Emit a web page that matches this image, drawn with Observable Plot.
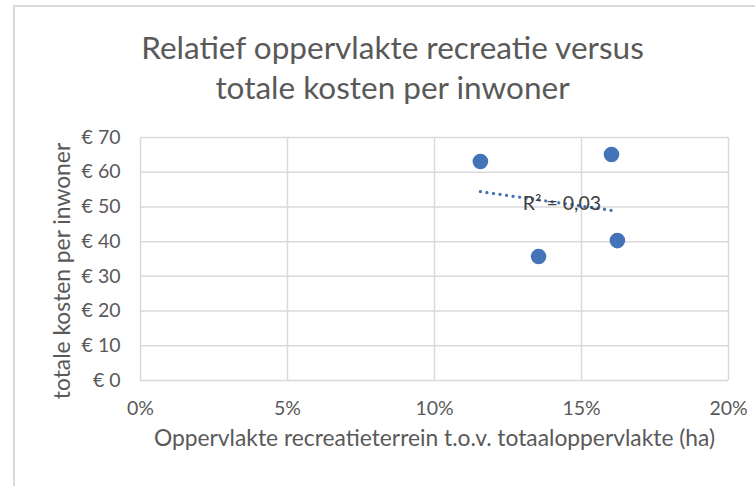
<!DOCTYPE html>
<html><head><meta charset="utf-8">
<script src="https://cdn.jsdelivr.net/npm/d3@7"></script>
<script src="https://cdn.jsdelivr.net/npm/@observablehq/plot@0.6"></script>
<style>
body{margin:0;background:#fff;}
#wrap{position:relative;width:755px;height:486px;overflow:hidden;font-family:Lato,"Open Sans",sans-serif;}
#frame{position:absolute;left:13px;top:5px;width:800px;height:600px;border-top:2px solid #d9d9d9;border-left:2px solid #d9d9d9;}
#title{position:absolute;left:0;top:27px;width:785px;text-align:center;font-size:31.5px;line-height:40px;color:#595959;}
#chart{position:absolute;left:0;top:120px;}
#chart svg{overflow:visible;}
</style></head>
<body><div id="wrap"><div id="frame"></div>
<div id="title">Relatief oppervlakte recreatie versus<br>totale kosten per inwoner</div>
<div id="chart"></div></div>
<script>
const share = [0.1156, 0.1602, 0.1354, 0.1622];
const cost = [63.1, 65.1, 35.7, 40.3];
const xTicks = [0, 0.05, 0.10, 0.15, 0.20];
const yTicks = [0, 10, 20, 30, 40, 50, 60, 70];
const xLabel = "Oppervlakte recreatieterrein t.o.v. totaaloppervlakte (ha)";
const yLabel = "totale kosten per inwoner";

const data = share.map((s, i) => ({x: s, y: cost[i]}));
const mx = d3.mean(share), my = d3.mean(cost);
let sxy = 0, sxx = 0, syy = 0;
data.forEach(d => { sxy += (d.x - mx) * (d.y - my); sxx += (d.x - mx) ** 2; syy += (d.y - my) ** 2; });
const r2 = (sxy * sxy) / (sxx * syy);
const r2text = "R² = " + r2.toFixed(2).replace(".", ",");

const blue = "#4474b8";
const pct = d3.format(".0%");
const eur = d => "€ " + d;
const chart = Plot.plot({
  width: 755, height: 366,
  marginLeft: 140, marginRight: 27, marginTop: 17, marginBottom: 106,
  style: {fontFamily: "Lato, 'Open Sans', sans-serif", fontSize: "19px", color: "#595959", background: "transparent", overflow: "visible"},
  x: {domain: [0, 0.2]},
  y: {domain: [0, 70]},
  marks: [
    Plot.gridX(xTicks, {stroke: "#d9d9d9", strokeOpacity: 1, strokeWidth: 1.5}),
    Plot.gridY(yTicks, {stroke: "#d9d9d9", strokeOpacity: 1, strokeWidth: 1.5}),
    Plot.axisX({ticks: xTicks, tickFormat: pct, tickSize: 0, tickPadding: 21, label: null, fontSize: 19.5, fill: "#595959"}),
    Plot.axisY({ticks: yTicks, tickFormat: eur, tickSize: 0, tickPadding: 20, label: null, fontSize: 19.5, fill: "#595959"}),
    Plot.text([xLabel], {frameAnchor: "bottom", dy: 65, text: d => d, fontSize: 22.8, fill: "#595959"}),
    Plot.text([yLabel], {frameAnchor: "left", textAnchor: "middle", dx: -78, dy: 12, rotate: -90, text: d => d, fontSize: 22.8, fill: "#595959"}),
    Plot.linearRegressionY(data, {x: "x", y: "y", ci: 0, stroke: blue, strokeWidth: 3.2, strokeDasharray: "0.1,6.5", strokeLinecap: "round"}),
    Plot.dot(data, {x: "x", y: "y", r: 7.8, fill: blue}),
    Plot.text([r2text], {x: mx, y: my, dx: 0, text: d => d, fontSize: 19.5, fill: "#404040"})
  ]
});
document.getElementById("chart").appendChild(chart);
</script></body></html>
